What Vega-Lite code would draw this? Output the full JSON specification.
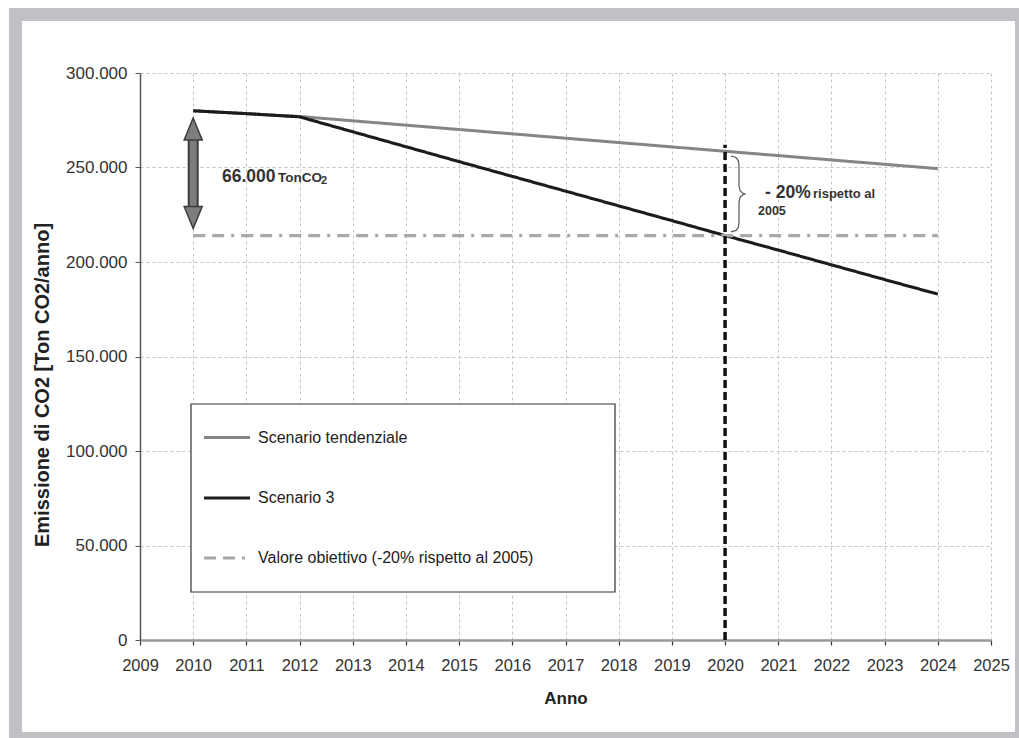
{
  "$schema": "https://vega.github.io/schema/vega-lite/v6.json",
  "width": 851,
  "height": 567,
  "autosize": {"type": "none"},
  "padding": {"left": 140, "top": 73, "right": 28, "bottom": 98},
  "background": "white",
  "config": {
    "locale": {"number": {"decimal": ",", "thousands": ".", "grouping": [3], "currency": ["€", ""]}},
    "view": {"stroke": null},
    "font": "Liberation Sans"
  },
  "datasets": {
    "emissioni": [
      {"anno": 2010, "emissioni": 280000, "serie": "Scenario tendenziale"},
      {"anno": 2011, "emissioni": 278500, "serie": "Scenario tendenziale"},
      {"anno": 2012, "emissioni": 277000, "serie": "Scenario tendenziale"},
      {"anno": 2013, "emissioni": 274700, "serie": "Scenario tendenziale"},
      {"anno": 2014, "emissioni": 272400, "serie": "Scenario tendenziale"},
      {"anno": 2015, "emissioni": 270100, "serie": "Scenario tendenziale"},
      {"anno": 2016, "emissioni": 267800, "serie": "Scenario tendenziale"},
      {"anno": 2017, "emissioni": 265500, "serie": "Scenario tendenziale"},
      {"anno": 2018, "emissioni": 263200, "serie": "Scenario tendenziale"},
      {"anno": 2019, "emissioni": 260900, "serie": "Scenario tendenziale"},
      {"anno": 2020, "emissioni": 258600, "serie": "Scenario tendenziale"},
      {"anno": 2021, "emissioni": 256300, "serie": "Scenario tendenziale"},
      {"anno": 2022, "emissioni": 254000, "serie": "Scenario tendenziale"},
      {"anno": 2023, "emissioni": 251700, "serie": "Scenario tendenziale"},
      {"anno": 2024, "emissioni": 249400, "serie": "Scenario tendenziale"},
      {"anno": 2010, "emissioni": 280000, "serie": "Scenario 3"},
      {"anno": 2011, "emissioni": 278500, "serie": "Scenario 3"},
      {"anno": 2012, "emissioni": 276800, "serie": "Scenario 3"},
      {"anno": 2013, "emissioni": 268900, "serie": "Scenario 3"},
      {"anno": 2014, "emissioni": 261000, "serie": "Scenario 3"},
      {"anno": 2015, "emissioni": 253100, "serie": "Scenario 3"},
      {"anno": 2016, "emissioni": 245300, "serie": "Scenario 3"},
      {"anno": 2017, "emissioni": 237500, "serie": "Scenario 3"},
      {"anno": 2018, "emissioni": 229700, "serie": "Scenario 3"},
      {"anno": 2019, "emissioni": 221900, "serie": "Scenario 3"},
      {"anno": 2020, "emissioni": 214000, "serie": "Scenario 3"},
      {"anno": 2021, "emissioni": 206300, "serie": "Scenario 3"},
      {"anno": 2022, "emissioni": 198500, "serie": "Scenario 3"},
      {"anno": 2023, "emissioni": 190700, "serie": "Scenario 3"},
      {"anno": 2024, "emissioni": 183000, "serie": "Scenario 3"},
      {"anno": 2010, "emissioni": 214000, "serie": "Valore obiettivo (-20% rispetto al 2005)"},
      {"anno": 2024, "emissioni": 214000, "serie": "Valore obiettivo (-20% rispetto al 2005)"}
    ],
    "parentesi": [
      {"ordine": 1, "anno": 2020.112, "valore": 256100},
      {"ordine": 2, "anno": 2020.206, "valore": 255300},
      {"ordine": 3, "anno": 2020.253, "valore": 253400},
      {"ordine": 4, "anno": 2020.262, "valore": 250800},
      {"ordine": 5, "anno": 2020.262, "valore": 240200},
      {"ordine": 6, "anno": 2020.281, "valore": 237800},
      {"ordine": 7, "anno": 2020.328, "valore": 236500},
      {"ordine": 8, "anno": 2020.375, "valore": 236000},
      {"ordine": 9, "anno": 2020.328, "valore": 235450},
      {"ordine": 10, "anno": 2020.281, "valore": 234100},
      {"ordine": 11, "anno": 2020.262, "valore": 231700},
      {"ordine": 12, "anno": 2020.262, "valore": 221200},
      {"ordine": 13, "anno": 2020.253, "valore": 218500},
      {"ordine": 14, "anno": 2020.206, "valore": 216700},
      {"ordine": 15, "anno": 2020.112, "valore": 215900}
    ]
  },
  "layer": [
    {
      "data": {"values": [{}]},
      "mark": {"type": "rect", "fill": null, "stroke": "#c0c1c5", "strokeWidth": 13, "clip": false},
      "encoding": {
        "x": {"datum": 2006.659}, "x2": {"datum": 2025.574},
        "y": {"datum": 330950}, "y2": {"datum": -52116}
      }
    },
    {
      "data": {"values": [{}]},
      "mark": {"type": "rect", "fill": "white", "stroke": "#333333", "strokeWidth": 1.2},
      "encoding": {
        "x": {"datum": 2009.959}, "x2": {"datum": 2017.931},
        "y": {"datum": 124870}, "y2": {"datum": 25400}
      }
    },
    {
      "data": {"name": "emissioni"},
      "mark": {"type": "line", "strokeCap": "butt"},
      "encoding": {
        "x": {
          "field": "anno", "type": "quantitative",
          "scale": {"domain": [2009, 2025], "nice": false, "zero": false},
          "axis": {
            "values": [2009, 2010, 2011, 2012, 2013, 2014, 2015, 2016, 2017, 2018, 2019, 2020, 2021, 2022, 2023, 2024, 2025],
            "format": "d", "title": "Anno",
            "grid": true, "gridColor": "#c4c4c4", "gridDash": [3, 3], "gridWidth": 1,
            "domainColor": "#9a9a9a", "domainWidth": 2.5,
            "tickColor": "#333333", "tickSize": 5, "tickWidth": 1.2,
            "labelFont": "Liberation Sans", "labelFontSize": 16.5, "labelColor": "#333333",
            "labelPadding": 12, "labelFlush": false, "labelOverlap": false,
            "titleFont": "Liberation Sans", "titleFontSize": 17, "titleFontWeight": "bold",
            "titleColor": "#222222", "titleY": 50, "titleBaseline": "top"
          }
        },
        "y": {
          "field": "emissioni", "type": "quantitative",
          "scale": {"domain": [0, 300000], "nice": false},
          "axis": {
            "values": [0, 50000, 100000, 150000, 200000, 250000, 300000],
            "format": ",d", "title": "Emissione di CO2 [Ton CO2/anno]",
            "grid": true, "gridColor": "#c4c4c4", "gridDash": [3, 3], "gridWidth": 1,
            "domainColor": "#555555", "domainWidth": 1.5,
            "tickColor": "#555555", "tickSize": 5,
            "labelFont": "Liberation Sans", "labelFontSize": 17, "labelColor": "#333333",
            "labelPadding": 8,
            "titleFont": "Liberation Sans", "titleFontSize": 20, "titleFontWeight": "bold",
            "titleColor": "#222222", "titleX": -97.5, "titleY": 311.5,
            "titleBaseline": "middle", "titleAlign": "center"
          }
        },
        "color": {
          "field": "serie", "type": "nominal",
          "scale": {
            "domain": ["Scenario tendenziale", "Scenario 3", "Valore obiettivo (-20% rispetto al 2005)"],
            "range": ["#858585", "#1c1c1c", "#a8a8a8"]
          },
          "legend": {
            "orient": "none", "legendX": 62, "legendY": 340, "title": null,
            "symbolType": "stroke", "symbolSize": 2116,
            "labelFont": "Liberation Sans", "labelFontSize": 16, "labelColor": "#222222",
            "labelOffset": 6, "rowPadding": 27, "padding": 0, "labelLimit": 0
          }
        },
        "strokeDash": {
          "field": "serie", "type": "nominal",
          "scale": {
            "domain": ["Scenario tendenziale", "Scenario 3", "Valore obiettivo (-20% rispetto al 2005)"],
            "range": [[1, 0], [1, 0], [12, 7, 12, 7, 3, 7]]
          }
        },
        "strokeWidth": {
          "field": "serie", "type": "nominal",
          "scale": {
            "domain": ["Scenario tendenziale", "Scenario 3", "Valore obiettivo (-20% rispetto al 2005)"],
            "range": [3, 3.2, 2]
          }
        }
      }
    },
    {
      "data": {"values": [{}]},
      "mark": {"type": "rule", "color": "#111111", "strokeWidth": 3.5, "strokeDash": [8, 4]},
      "encoding": {"x": {"datum": 2020}, "y": {"datum": 0}, "y2": {"datum": 262000}}
    },
    {
      "data": {"values": [{}]},
      "mark": {"type": "rule", "color": "#3c3c3c", "strokeWidth": 11, "strokeCap": "butt"},
      "encoding": {"x": {"datum": 2010}, "y": {"datum": 266000}, "y2": {"datum": 228000}}
    },
    {
      "data": {"values": [{}]},
      "mark": {"type": "rule", "color": "#7d7d7d", "strokeWidth": 7, "strokeCap": "butt"},
      "encoding": {"x": {"datum": 2010}, "y": {"datum": 268000}, "y2": {"datum": 226000}}
    },
    {
      "data": {"values": [{}]},
      "mark": {"type": "point", "shape": "M0,-1L0.82,1L-0.82,1Z", "size": 484, "filled": true, "fill": "#7d7d7d", "stroke": "#3c3c3c", "strokeWidth": 1.5, "opacity": 1},
      "encoding": {"x": {"datum": 2010}, "y": {"datum": 270370}}
    },
    {
      "data": {"values": [{}]},
      "mark": {"type": "point", "shape": "M0,1L0.82,-1L-0.82,-1Z", "size": 484, "filled": true, "fill": "#7d7d7d", "stroke": "#3c3c3c", "strokeWidth": 1.5, "opacity": 1},
      "encoding": {"x": {"datum": 2010}, "y": {"datum": 223550}}
    },
    {
      "data": {"name": "parentesi"},
      "mark": {"type": "line", "color": "#555555", "strokeWidth": 1.2},
      "encoding": {
        "x": {"field": "anno", "type": "quantitative"},
        "y": {"field": "valore", "type": "quantitative"},
        "order": {"field": "ordine", "type": "quantitative"}
      }
    },
    {
      "data": {"values": [{}]},
      "mark": {"type": "text", "text": "66.000", "font": "Liberation Sans", "fontSize": 17.5, "fontWeight": "bold", "color": "#333333", "align": "left", "baseline": "alphabetic"},
      "encoding": {"x": {"datum": 2010.542}, "y": {"datum": 242500}}
    },
    {
      "data": {"values": [{}]},
      "mark": {"type": "text", "text": "TonCO", "font": "Liberation Sans", "fontSize": 13.5, "fontWeight": "bold", "color": "#333333", "align": "left", "baseline": "alphabetic"},
      "encoding": {"x": {"datum": 2011.595}, "y": {"datum": 242500}}
    },
    {
      "data": {"values": [{}]},
      "mark": {"type": "text", "text": "2", "font": "Liberation Sans", "fontSize": 11, "fontWeight": "bold", "color": "#333333", "align": "left", "baseline": "alphabetic"},
      "encoding": {"x": {"datum": 2012.403}, "y": {"datum": 241200}}
    },
    {
      "data": {"values": [{}]},
      "mark": {"type": "text", "text": "- 20%", "font": "Liberation Sans", "fontSize": 17.5, "fontWeight": "bold", "color": "#333333", "align": "left", "baseline": "alphabetic"},
      "encoding": {"x": {"datum": 2020.751}, "y": {"datum": 233900}}
    },
    {
      "data": {"values": [{}]},
      "mark": {"type": "text", "text": "rispetto al", "font": "Liberation Sans", "fontSize": 13, "fontWeight": "bold", "color": "#333333", "align": "left", "baseline": "alphabetic"},
      "encoding": {"x": {"datum": 2021.653}, "y": {"datum": 233900}}
    },
    {
      "data": {"values": [{}]},
      "mark": {"type": "text", "text": "2005", "font": "Liberation Sans", "fontSize": 12.5, "fontWeight": "bold", "color": "#333333", "align": "left", "baseline": "alphabetic"},
      "encoding": {"x": {"datum": 2020.619}, "y": {"datum": 224900}}
    }
  ]
}
